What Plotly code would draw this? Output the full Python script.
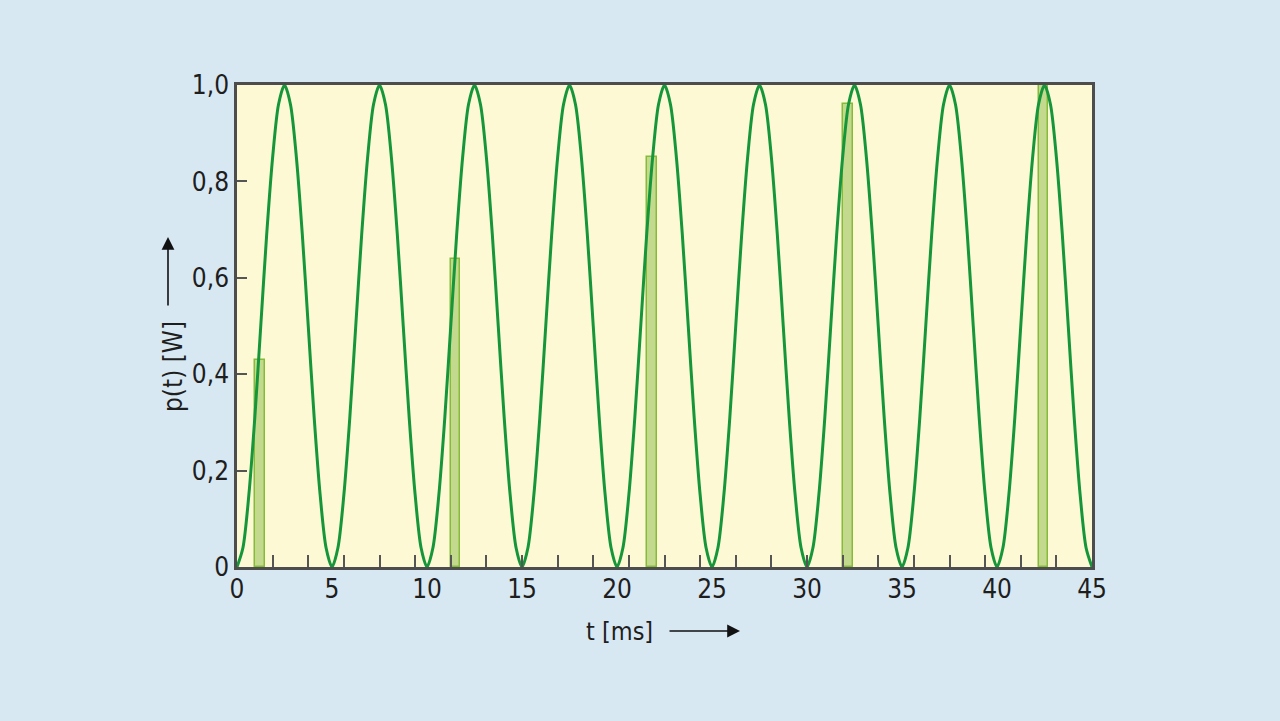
import plotly.graph_objects as go

# Curve samples p(t) (t step 0.3125 ms, 16 samples per 5 ms)
T_STEP = 0.3125
p_curve = [
    0, 0.04, 0.15, 0.31, 0.5, 0.69, 0.85, 0.96, 1.0, 0.96, 0.85, 0.69, 0.5, 0.31, 0.15, 0.04,
    0, 0.04, 0.15, 0.31, 0.5, 0.69, 0.85, 0.96, 1.0, 0.96, 0.85, 0.69, 0.5, 0.31, 0.15, 0.04,
    0, 0.04, 0.15, 0.31, 0.5, 0.69, 0.85, 0.96, 1.0, 0.96, 0.85, 0.69, 0.5, 0.31, 0.15, 0.04,
    0, 0.04, 0.15, 0.31, 0.5, 0.69, 0.85, 0.96, 1.0, 0.96, 0.85, 0.69, 0.5, 0.31, 0.15, 0.04,
    0, 0.04, 0.15, 0.31, 0.5, 0.69, 0.85, 0.96, 1.0, 0.96, 0.85, 0.69, 0.5, 0.31, 0.15, 0.04,
    0, 0.04, 0.15, 0.31, 0.5, 0.69, 0.85, 0.96, 1.0, 0.96, 0.85, 0.69, 0.5, 0.31, 0.15, 0.04,
    0, 0.04, 0.15, 0.31, 0.5, 0.69, 0.85, 0.96, 1.0, 0.96, 0.85, 0.69, 0.5, 0.31, 0.15, 0.04,
    0, 0.04, 0.15, 0.31, 0.5, 0.69, 0.85, 0.96, 1.0, 0.96, 0.85, 0.69, 0.5, 0.31, 0.15, 0.04,
    0, 0.04, 0.15, 0.31, 0.5, 0.69, 0.85, 0.96, 1.0, 0.96, 0.85, 0.69, 0.5, 0.31, 0.15, 0.04,
    0,
]
t_curve = [i * T_STEP for i in range(len(p_curve))]

# Sample bars
t_samples = [1.2, 11.5, 21.85, 32.15, 42.45]
p_samples = [0.43, 0.64, 0.85, 0.96, 1.0]

x_tickvals = [0, 5, 10, 15, 20, 25, 30, 35, 40, 45]
x_ticktext = ["0", "5", "10", "15", "20", "25", "30", "35", "40", "45"]
y_tickvals = [0, 0.2, 0.4, 0.6, 0.8, 1.0]
y_ticktext = ["0", "0,2", "0,4", "0,6", "0,8", "1,0"]

FONT = "DejaVu Sans Condensed, Roboto, sans-serif"
L, R, T, B = 237, 1092, 85, 567
W, H = 1280, 721

def px(x):
    return (x - L) / (R - L)

def py(y):
    return (B - y) / (B - T)

fig = go.Figure()
fig.add_trace(go.Bar(
    x=t_samples, y=p_samples, width=0.5,
    marker=dict(color="#c3da8e", line=dict(color="#86bb3a", width=1.5)),
    hoverinfo="skip", showlegend=False,
))
fig.add_trace(go.Scatter(
    x=t_curve, y=p_curve, mode="lines",
    line=dict(color="#16963a", width=3, shape="spline", smoothing=0.8),
    hoverinfo="skip", showlegend=False,
))
# invisible trace carrying the label axis
fig.add_trace(go.Scatter(x=[0, 45], y=[0, 0], xaxis="x2", mode="lines",
                         line=dict(width=0, color="rgba(0,0,0,0)"),
                         hoverinfo="skip", showlegend=False))

TICKFONT = dict(family=FONT, size=26, color="#1e1e1e")

fig.update_layout(
    width=W, height=H,
    paper_bgcolor="#d8e8f3",
    plot_bgcolor="#fdf9d4",
    margin=dict(l=L, r=W - R, t=T, b=H - B, pad=0),
    font=dict(family=FONT, size=26, color="#1e1e1e"),
    bargap=0,
    xaxis=dict(
        range=[0, 45], tickmode="linear", tick0=0, dtick=1.875,
        ticks="inside", ticklen=12, tickwidth=2, tickcolor="#555555",
        showticklabels=False, showgrid=False, zeroline=False,
        showline=True, linecolor="#4d4d4d", linewidth=2.5, mirror=True,
    ),
    xaxis2=dict(
        range=[0, 45], overlaying="x", anchor="y", side="bottom",
        tickvals=x_tickvals, ticktext=x_ticktext, ticks="",
        ticklabelstandoff=4,
        tickfont=TICKFONT, showgrid=False, zeroline=False, showline=False,
    ),
    yaxis=dict(
        range=[0, 1.0], tickvals=y_tickvals, ticktext=y_ticktext,
        ticks="inside", ticklen=10, tickwidth=2, tickcolor="#555555",
        showgrid=False, zeroline=False,
        showline=True, linecolor="#4d4d4d", linewidth=2.5, mirror=True,
        tickfont=TICKFONT,
    ),
    annotations=[
        dict(xref="paper", yref="paper", x=px(619), y=py(631), text="t [ms]",
             xanchor="center", yanchor="middle",
             showarrow=False, font=dict(family=FONT, size=25, color="#1e1e1e")),
        dict(xref="paper", yref="paper", x=px(740), y=py(631), text="",
             showarrow=True, ax=-72, ay=0, arrowhead=2, arrowsize=1.6,
             arrowwidth=1.6, arrowcolor="#111111"),
        dict(xref="paper", yref="paper", x=px(173), y=py(367), text="p(t) [W]",
             xanchor="center", yanchor="middle",
             textangle=-90, showarrow=False,
             font=dict(family=FONT, size=26, color="#1e1e1e")),
        dict(xref="paper", yref="paper", x=px(168), y=py(237), text="",
             showarrow=True, ax=0, ay=70, arrowhead=2, arrowsize=1.6,
             arrowwidth=1.6, arrowcolor="#111111"),
    ],
)

fig.write_html("out.html", config={"displayModeBar": False},
               post_script="document.body.style.margin='0';document.body.style.padding='0';document.body.style.overflow='hidden';")
